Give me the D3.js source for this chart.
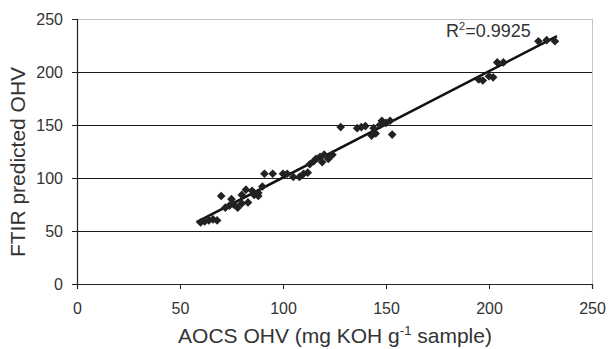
<!DOCTYPE html>
<html>
<head>
<meta charset="utf-8">
<script src="https://cdn.jsdelivr.net/npm/d3@7"></script>
<style>
  body { margin: 0; background: #fff; }
  text { font-family: "Liberation Sans", Arial, sans-serif; fill: #333; }
</style>
</head>
<body>
<svg id="chart" width="609" height="349"></svg>
<script>
// AOCS reference values vs FTIR predicted values
const aocs = [60, 62, 64, 66, 68, 70, 72, 74, 75, 76, 78, 80, 80, 82, 83, 85, 86, 88, 88, 90,
  91, 95, 100, 102, 105, 108, 110, 112, 113, 115, 116, 118, 119, 120, 122, 124,
  128, 136, 138, 140, 143, 144, 145, 147, 148, 150, 152, 153,
  195, 197, 200, 202, 204, 207, 224, 228, 232];
const ftir = [58, 59, 60, 61, 60, 83, 72, 74, 80, 75, 72, 76, 84, 89, 77, 88, 84, 86, 83, 92,
  104, 104, 104, 104, 101, 101, 104, 105, 113, 116, 118, 120, 115, 122, 118, 122,
  148, 147, 148, 149, 140, 147, 142, 150, 154, 152, 154, 141,
  193, 192, 196, 195, 209, 209, 229, 230, 229];
const xTicks = [0, 50, 100, 150, 200, 250];
const yTicks = [0, 50, 100, 150, 200, 250];
const r2Label = "0.9925";

const svg = d3.select("#chart");
const mLeft = 77, mRight = 592, mTop = 19, mBottom = 284;

const x = d3.scaleLinear().domain([0, 250]).range([mLeft, mRight]);
const y = d3.scaleLinear().domain([0, 250]).range([mBottom, mTop]);

// gridlines
svg.append("g")
  .selectAll("line")
  .data(yTicks.filter(d => d > 0))
  .join("line")
  .attr("x1", mLeft).attr("x2", mRight)
  .attr("y1", d => y(d) + 0.5).attr("y2", d => y(d) + 0.5)
  .attr("stroke", d => d === 250 ? "#c4c4c4" : "#1a1a1a")
  .attr("stroke-width", 1)
  .attr("shape-rendering", "crispEdges");

// right border
svg.append("line")
  .attr("x1", mRight + 0.5).attr("x2", mRight + 0.5).attr("y1", mTop).attr("y2", mBottom)
  .attr("stroke", "#c4c4c4")
  .attr("shape-rendering", "crispEdges");

// axes
const xAxis = svg.append("g")
  .attr("transform", "translate(0," + mBottom + ")")
  .call(d3.axisBottom(x).tickValues(xTicks).tickSize(5).tickPadding(14));
const yAxis = svg.append("g")
  .attr("transform", "translate(" + mLeft + ",0)")
  .call(d3.axisLeft(y).tickValues(yTicks).tickSize(5).tickPadding(9));

[xAxis, yAxis].forEach(g => {
  g.select(".domain").attr("stroke", "#222").attr("stroke-width", 1.2);
  g.selectAll(".tick line").attr("stroke", "#222");
  g.selectAll(".tick text").style("font-size", "16px").attr("fill", "#333")
    .style("font-family", "'Liberation Sans', Arial, sans-serif");
});

// regression line (least squares fit)
const n = aocs.length;
const mx = d3.mean(aocs), my = d3.mean(ftir);
let sxy = 0, sxx = 0;
for (let i = 0; i < n; i++) {
  sxy += (aocs[i] - mx) * (ftir[i] - my);
  sxx += (aocs[i] - mx) * (aocs[i] - mx);
}
const slope = sxy / sxx, icpt = my - slope * mx;
const x0 = d3.min(aocs) - 2, x1 = d3.max(aocs) + 1;
svg.append("line")
  .attr("x1", x(x0)).attr("y1", y(icpt + slope * x0))
  .attr("x2", x(x1)).attr("y2", y(icpt + slope * x1))
  .attr("stroke", "#111").attr("stroke-width", 2.5);

// diamond markers
const diamond = d3.symbol().type(d3.symbolDiamond2).size(48);
svg.append("g")
  .selectAll("path")
  .data(aocs.map((d, i) => [d, ftir[i]]))
  .join("path")
  .attr("d", diamond)
  .attr("transform", d => "translate(" + x(d[0]) + "," + y(d[1]) + ")")
  .attr("fill", "#222");

// R^2 label
const r2 = svg.append("text")
  .attr("x", 446).attr("y", 37)
  .style("font-size", "18px");
r2.append("tspan").text("R");
r2.append("tspan").text("2").attr("dy", -7).style("font-size", "11px");
r2.append("tspan").text("=" + r2Label).attr("dy", 7);

// axis titles
const xt = svg.append("text")
  .attr("x", 335).attr("y", 343)
  .attr("text-anchor", "middle")
  .style("font-size", "21px");
xt.append("tspan").text("AOCS OHV (mg KOH g");
xt.append("tspan").text("-1").attr("dy", -8).style("font-size", "13px");
xt.append("tspan").text(" sample)").attr("dy", 8);

svg.append("text")
  .attr("transform", "translate(25,162) rotate(-90)")
  .attr("text-anchor", "middle")
  .style("font-size", "21px")
  .text("FTIR predicted OHV");
</script>
</body>
</html>
